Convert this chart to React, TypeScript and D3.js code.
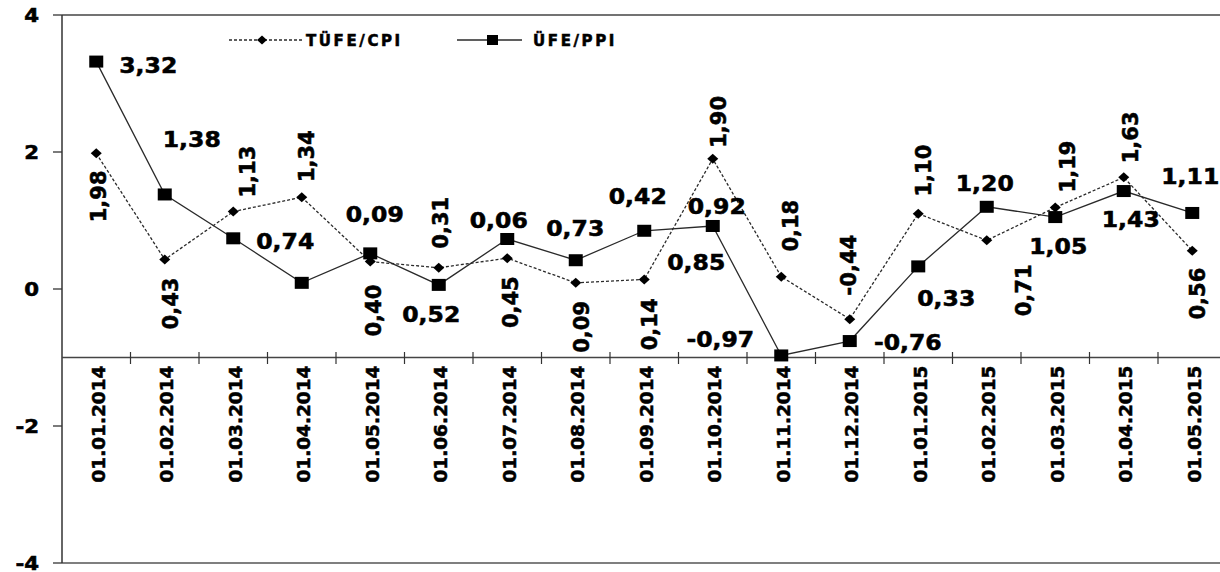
import React from "react";
import * as d3 from "d3";

const categories = [
  "01.01.2014", "01.02.2014", "01.03.2014", "01.04.2014", "01.05.2014", "01.06.2014",
  "01.07.2014", "01.08.2014", "01.09.2014", "01.10.2014", "01.11.2014", "01.12.2014",
  "01.01.2015", "01.02.2015", "01.03.2015", "01.04.2015", "01.05.2015",
];
const cpiValues = [1.98, 0.43, 1.13, 1.34, 0.40, 0.31, 0.45, 0.09, 0.14, 1.90, 0.18, -0.44, 1.10, 0.71, 1.19, 1.63, 0.56];
const ppiValues = [3.32, 1.38, 0.74, 0.09, 0.52, 0.06, 0.73, 0.42, 0.85, 0.92, -0.97, -0.76, 0.33, 1.20, 1.05, 1.43, 1.11];
const yTicks = [-4, -2, 0, 2, 4];
const seriesNames = ["TÜFE/CPI", "ÜFE/PPI"];

// label placement offsets (pixels from the point to the label centre)
const cpiLabelOffsets: [number, number][] = [
  [2, 43], [5, 44], [14, -40], [4, -41], [3, 49], [1, -45], [3, 44], [5, 44], [5, 45],
  [5, -37], [9, -51], [-2, -54], [5, -43], [36, 50], [12, -41], [6, -40], [5, 43],
];
const ppiLabelOffsets: [number, number][] = [
  [52, 3], [27, -55], [52, 3], [73, -69], [61, 61], [60, -65], [68, -11], [62, -64], [52, 31],
  [4, -20], [-61, -16], [58, 1], [28, 32], [-2, -24], [3, 29], [7, 28], [-2, -37],
];

const W = 1220;
const H = 572;
const left = 62;
const bandW = 68.5;
const top = 15;
const bottom = 563;
const FONT = "'DejaVu Sans', Verdana, sans-serif";
const fmt = (v: number) => v.toFixed(2).replace(".", ",");

export default function App() {
  const x = d3.scaleBand<string>().domain(categories).range([left, left + bandW * categories.length]).padding(0);
  const y = d3.scaleLinear().domain([-4, 4]).range([bottom, top]);
  const xc = (i: number) => (x(categories[i]) as number) + x.bandwidth() / 2;
  const axisY = y(-1);

  const line = d3
    .line<number>()
    .x((_, i) => xc(i))
    .y((d) => y(d));

  const plotRight = left + bandW * categories.length;
  const stroke = "#2a2a2a";
  const heavy = { stroke: "#000", strokeWidth: 0.55 };

  return (
    <svg width={W} height={H} style={{ position: "absolute", left: 0, top: 0, background: "#fff" }}>
      <rect x={0} y={0} width={W} height={H} fill="#fff" />
      {/* plot frame */}
      <line x1={left} x2={plotRight} y1={top} y2={top} stroke="#444" strokeWidth={1.5} />
      <line x1={left} x2={plotRight} y1={bottom} y2={bottom} stroke="#555" strokeWidth={1.5} />
      <line x1={left} x2={left} y1={top} y2={bottom} stroke="#333" strokeWidth={1.5} />
      {/* y ticks */}
      {yTicks.map((t) => (
        <g key={t}>
          <line x1={left - 9} x2={left} y1={y(t)} y2={y(t)} stroke="#333" strokeWidth={1.3} />
          <text
            transform={`translate(39,${y(t) + 6.5}) scale(1.12,1)`}
            textAnchor="end"
            fontFamily={FONT}
            fontWeight="bold"
            fontSize={19}
            fill="#000"
            {...heavy}
          >
            {t}
          </text>
        </g>
      ))}
      {/* category axis at y=-1 */}
      <line x1={left} x2={plotRight} y1={axisY} y2={axisY} stroke="#444" strokeWidth={1.3} />
      {categories.map((c, i) => (
        <g key={c}>
          {i > 0 && (
            <line
              x1={x(c) as number}
              x2={x(c) as number}
              y1={axisY - 5.5}
              y2={axisY + 6.5}
              stroke="#333"
              strokeWidth={1.2}
            />
          )}
          <text
            transform={`translate(${xc(i) + 8.5},${axisY + 8}) rotate(-90)`}
            textAnchor="end"
            fontFamily={FONT}
            fontWeight="bold"
            fontSize={18.5}
            fill="#000"
            {...heavy}
          >
            {c}
          </text>
        </g>
      ))}
      {/* series lines */}
      <path d={line(cpiValues) || ""} fill="none" stroke={stroke} strokeWidth={1.3} strokeDasharray="3,2" />
      <path d={line(ppiValues) || ""} fill="none" stroke={stroke} strokeWidth={1.3} />
      {/* markers */}
      {cpiValues.map((v, i) => (
        <polygon
          key={"d" + i}
          points={`${xc(i)},${y(v) - 5} ${xc(i) + 5.5},${y(v)} ${xc(i)},${y(v) + 5} ${xc(i) - 5.5},${y(v)}`}
          fill="#000"
        />
      ))}
      {ppiValues.map((v, i) => (
        <rect key={"s" + i} x={xc(i) - 7} y={y(v) - 6} width={14} height={12} fill="#000" />
      ))}
      {/* labels */}
      {cpiValues.map((v, i) => {
        const cx = xc(i) + cpiLabelOffsets[i][0];
        const cy = y(v) + cpiLabelOffsets[i][1];
        return (
          <text
            key={"cl" + i}
            transform={`translate(${cx + 8},${cy}) rotate(-90)`}
            textAnchor="middle"
            fontFamily={FONT}
            fontWeight="bold"
            fontSize={21}
            fill="#000"
            {...heavy}
          >
            {fmt(v)}
          </text>
        );
      })}
      {ppiValues.map((v, i) => {
        const cx = xc(i) + ppiLabelOffsets[i][0];
        const cy = y(v) + ppiLabelOffsets[i][1];
        return (
          <text
            key={"pl" + i}
            transform={`translate(${cx},${cy + 8}) scale(1.12,1)`}
            textAnchor="middle"
            fontFamily={FONT}
            fontWeight="bold"
            fontSize={21}
            fill="#000"
            {...heavy}
          >
            {fmt(v)}
          </text>
        );
      })}
      {/* legend */}
      <g>
        <line x1={229} x2={302} y1={40} y2={40} stroke={stroke} strokeWidth={1.3} strokeDasharray="3,2" />
        <polygon points="262,35.5 267,40 262,44.5 257,40" fill="#000" />
        <text x={306} y={45.5} fontFamily={FONT} fontWeight="bold" fontSize={15} letterSpacing={2.6} fill="#000" {...heavy}>
          {seriesNames[0]}
        </text>
        <line x1={457} x2={522} y1={40} y2={40} stroke={stroke} strokeWidth={1.3} />
        <rect x={487} y={35} width={11} height={10} fill="#000" />
        <text x={533} y={45.5} fontFamily={FONT} fontWeight="bold" fontSize={15} letterSpacing={2.6} fill="#000" {...heavy}>
          {seriesNames[1]}
        </text>
      </g>
    </svg>
  );
}
